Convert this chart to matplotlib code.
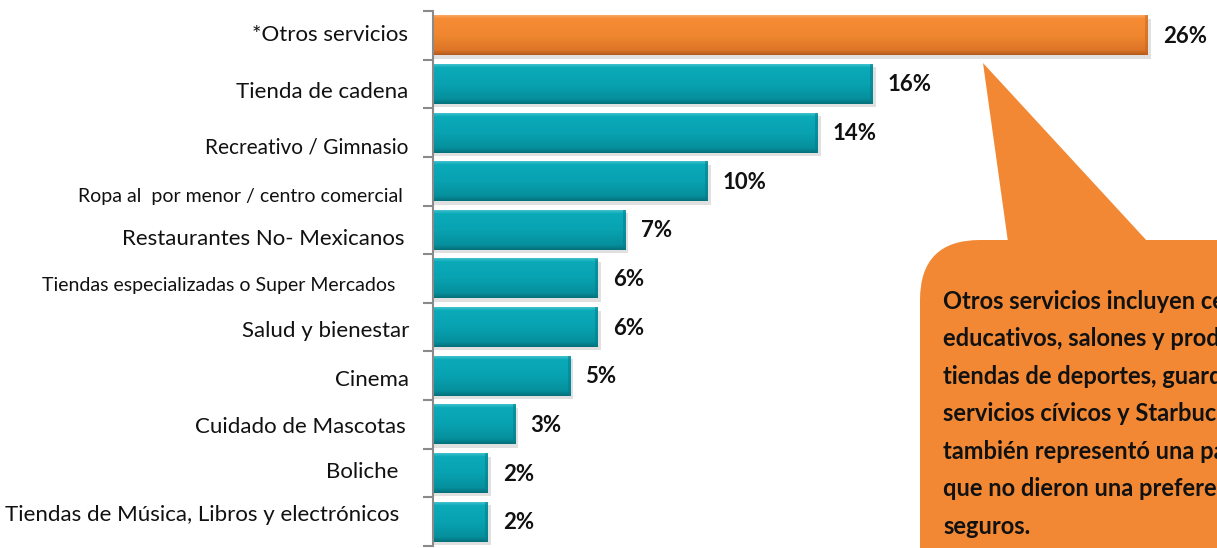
import numpy as np
import matplotlib.pyplot as plt
from matplotlib.colors import LinearSegmentedColormap
from matplotlib.patches import FancyBboxPatch, Polygon

categorias = ['*Otros servicios', 'Tienda de cadena', 'Recreativo / Gimnasio',
              'Ropa al  por menor / centro comercial', 'Restaurantes No- Mexicanos',
              'Tiendas especializadas o Super Mercados', 'Salud y bienestar', 'Cinema',
              'Cuidado de Mascotas', 'Boliche', 'Tiendas de Música, Libros y electrónicos']
porcentajes = [26, 16, 14, 10, 7, 6, 6, 5, 3, 2, 2]

# estilo de cada etiqueta: tamaño (pt), corrimiento a la izquierda y hacia abajo (px)
tam_etiqueta = [16, 16, 15, 14, 16, 14, 16, 16, 16, 16, 16]
corr_x = [25, 25, 25, 30, 28, 38, 24, 24, 27, 35, 34]
corr_y = [0, 8, 15, 15, 9, 7, 4, 4, 3, -1, -7]

nota = ('Otros servicios incluyen centros\n'
        'educativos, salones y productos\n'
        'tiendas de deportes, guarderías,\n'
        'servicios cívicos y Starbucks. Un\n'
        'también representó una parte\n'
        'que no dieron una preferencia\n'
        'seguros.')

plt.rcParams['font.family'] = ['Lato', 'DejaVu Sans']

W, H = 1217, 548
PX = 27.5  # pixeles por punto porcentual
fig = plt.figure(figsize=(W / 100, H / 100), dpi=100)
ax = fig.add_axes([433 / W, 2 / H, (W - 433) / W, 535 / H])

n = len(categorias)
ys = list(range(n))
alto = 0.82

pos = [0.0, 0.08, 0.5, 0.88, 1.0]
cmap_teal = LinearSegmentedColormap.from_list(
    'teal', list(zip(pos, ['#3FC1CD', '#0BAAB9', '#08A2B1', '#068F9C', '#05707A'])))
cmap_nar = LinearSegmentedColormap.from_list(
    'nar', list(zip(pos, ['#F9A75F', '#F68C34', '#F0862F', '#DD7629', '#B45B1C'])))
grad = np.linspace(0, 1, 64).reshape(-1, 1)

for y, v in zip(ys, porcentajes):
    cm = cmap_nar if y == 0 else cmap_teal
    # sombra gris debajo de la barra
    ax.barh(y + 0.07, v + 0.1, height=alto, color='#c8c8c8', alpha=0.55, zorder=1)
    ax.imshow(grad, cmap=cm, aspect='auto', interpolation='bilinear',
              extent=[0, v, y + alto / 2, y - alto / 2], zorder=2)
    ax.barh(y, 0.1, left=v - 0.1, height=alto, color=cm(0.95), alpha=0.5, zorder=3)
    ax.text(v + 15 / PX, y + 0.02, f'{v}%', ha='left', va='center',
            fontsize=16, fontweight='bold', color='#111111')

ax.set_ylim(n - 0.5, -0.5)
ax.set_xlim(0, (W - 433) / PX)
fila_px = 535 / n

ax.set_yticks(ys)
ax.set_yticklabels([])
ax.tick_params(axis='y', which='major', length=0)
ax.set_yticks([i - 0.5 for i in range(n + 1)], minor=True)
ax.tick_params(axis='y', which='minor', length=7, color='#8a8a8a', width=1.5)
for y, lab, fs, dx, dy in zip(ys, categorias, tam_etiqueta, corr_x, corr_y):
    ax.text(-dx / PX, y + dy / fila_px, lab, ha='right', va='center',
            fontsize=fs, color='#111111')

ax.set_xticks([])
for s in ['top', 'right', 'bottom']:
    ax.spines[s].set_visible(False)
ax.spines['left'].set_color('#8a8a8a')
ax.spines['left'].set_linewidth(1.5)

# globo naranja con la nota
fa = fig.add_axes([0, 0, 1, 1], facecolor='none')
fa.set_xlim(0, W)
fa.set_ylim(H, 0)
fa.axis('off')
naranja = '#F28834'
fa.add_patch(FancyBboxPatch((920, 240), 400, 400, boxstyle='round,pad=0,rounding_size=60',
                            facecolor=naranja, edgecolor='none'))
fa.add_patch(Polygon([(983, 63), (1008, 242), (1148, 242)], closed=True,
                     facecolor=naranja, edgecolor='none'))
fa.text(943, 290, nota, ha='left', va='top', fontsize=17, fontweight='bold',
        color='#111111', linespacing=1.76)

fig.savefig('out.png', dpi=100)
